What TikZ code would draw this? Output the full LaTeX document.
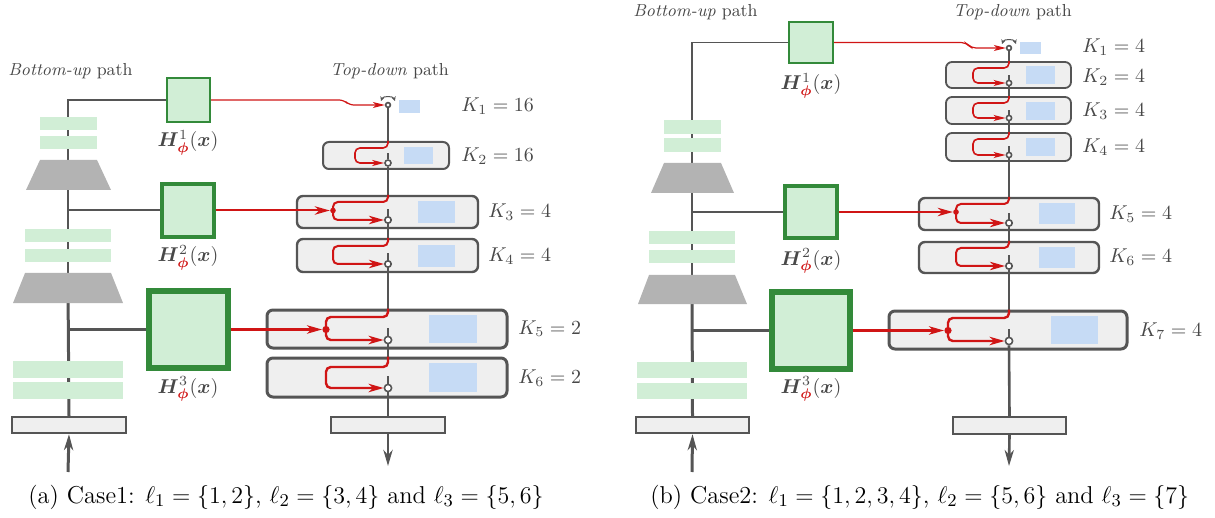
\documentclass[tikz,border=0pt]{standalone}
\usepackage{amsmath,bm}
\usetikzlibrary{arrows.meta,fit}
\definecolor{lineg}{HTML}{555555}
\definecolor{boxg}{HTML}{EFEFEF}
\definecolor{blueK}{HTML}{C6DBF5}
\definecolor{greenS}{HTML}{D1EED6}
\definecolor{greenD}{HTML}{338A3A}
\definecolor{trapG}{HTML}{B3B3B3}
\definecolor{redc}{HTML}{D01515}
\definecolor{textg}{HTML}{484848}
\tikzset{
  gl/.style={draw=lineg, line width=#1},
  rl/.style={draw=redc, line width=#1, rounded corners=2.4pt},
  rtipS/.style={-{Stealth[length=6pt,width=3pt,inset=1.6pt]}},
  rtipL/.style={-{Stealth[length=7.5pt,width=4.2pt,inset=2.2pt]}},
  gtip/.style={-{Stealth[length=8pt,width=4.6pt,inset=2.5pt]}},
  kbox/.style={draw=lineg, fill=boxg, line width=#1, rounded corners=3pt, inner sep=0pt},
  flatbox/.style={draw=lineg, fill=boxg, line width=1.2pt, inner sep=0pt},
  hbox/.style={draw=greenD, fill=greenS, line width=#1, inner sep=0pt},
  circ/.style={circle, draw=lineg, fill=white, inner sep=0pt, minimum size=#1, line width=0.8pt},
  jdot/.style={circle, fill=redc, inner sep=0pt, minimum size=#1},
  klab/.style={anchor=base west, text=textg, inner sep=0pt},
  hlab/.style={anchor=base, text=textg, inner sep=0pt},
  ttl/.style={anchor=base west, text=textg, inner sep=0pt, font=\fontsize{8.7}{10}\selectfont},
  captext/.style={anchor=base west, inner sep=0pt, font=\fontsize{12.2}{14}\selectfont},
  stripe/.style={fill=greenS},
  trap/.style={fill=trapG},
  bluer/.style={fill=blueK},
}
\newcommand{\Hl}[1]{$\bm{H}^{#1}_{\textcolor{redc}{\bm{\phi}}}(\bm{x})$}
\begin{document}
\begin{tikzpicture}[x=0.5pt,y=-0.5pt]
\useasboundingbox (0,0) rectangle (1215,518);

%================= PANEL (a) =================
\node[ttl] (tbuA) at (8,76) {\textit{Bottom-up} path};
\node[ttl] (ttdA) at (330,76) {\textit{Top-down} path};

\node[hbox=1pt, fit={(167,78)(210,122)}] (h1a) {};
\node[hbox=1.6pt, fit={(162,184)(214,237)}] (h2a) {};
\node[hbox=2.6pt, fit={(149,291)(228,368)}] (h3a) {};
\node[hlab] (lh1a) at (188,147) {\Hl{1}};
\node[hlab] (lh2a) at (188,262) {\Hl{2}};
\node[hlab] (lh3a) at (188,393) {\Hl{3}};

\node[flatbox, fit={(12,417)(126,433)}] (inA) {};
\coordinate (inA0) at (68,472);
\coordinate (bA0) at (68,100);
\coordinate (bA1) at (68,176);
\coordinate (bA2) at (68,288);

\draw[gl=0.6pt] (h1a.west) -- (bA0) -- (bA1);
\draw[gl=1pt] (bA1) -- (bA2);
\draw[gl=1.5pt] (bA2) -- (inA.north);
\draw[gl=1pt] (h2a.west -| bA0) -- (h2a.west);
\draw[gl=1.5pt] (h3a.west -| bA0) -- (h3a.west);
\draw[gl=1.5pt, gtip] (inA0) -- (inA.south);

\fill[stripe] (40,117) rectangle (97,130);
\fill[stripe] (40,136) rectangle (97,149);
\fill[trap] (40,160) -- (97,160) -- (111,190) -- (26,190) -- cycle;
\fill[stripe] (25,229) rectangle (111,242);
\fill[stripe] (25,249) rectangle (111,262);
\fill[trap] (25,273) -- (111,273) -- (123,303) -- (13,303) -- cycle;
\fill[stripe] (13,361) rectangle (123,378);
\fill[stripe] (13,382) rectangle (123,399);

\node[kbox=1pt, fit={(323,142)(449,169)}] (k2a) {};
\node[kbox=1.2pt, fit={(297,196)(478,228)}] (k3a) {};
\node[kbox=1.2pt, fit={(297,239)(478,272)}] (k4a) {};
\node[kbox=1.5pt, fit={(267,310)(507,348)}] (k5a) {};
\node[kbox=1.5pt, fit={(267,358)(507,397)}] (k6a) {};
\node[flatbox, fit={(331,417)(445,433)}] (outA) {};
\coordinate (outA0) at (388,466);

\fill[bluer] (399,100) rectangle (420,113);
\fill[bluer] (404,147) rectangle (433,164);
\fill[bluer] (418,201) rectangle (455,223);
\fill[bluer] (418,245) rectangle (455,267);
\fill[bluer] (429,315) rectangle (477,343);
\fill[bluer] (429,363) rectangle (477,392);

\node[circ=2.4pt] (c1a) at (388,105) {};
\node[circ=3pt] (c2a) at (388,163) {};
\node[circ=3.2pt] (c3a) at (388,220) {};
\node[circ=3.2pt] (c4a) at (388,264) {};
\node[circ=3.6pt] (c5a) at (388,340) {};
\node[circ=3.6pt] (c6a) at (388,388) {};
\node[jdot=2.8pt] (j3a) at (333,210.5) {};
\node[jdot=3.6pt] (j5a) at (326,329.5) {};

\draw[gl=0.6pt] (c1a.south) -- (c1a |- k2a.north);
\draw[gl=0.8pt] (c2a.south) -- (c2a |- k3a.north);
\draw[gl=0.8pt] (c3a.south) -- (c3a |- k4a.north);
\draw[gl=1pt] (c4a.south) -- (c4a |- k5a.north);
\draw[gl=1.2pt] (c5a.south) -- (c5a |- k6a.north);
\draw[gl=1.4pt] (c6a.south) -- (outA.north);
\draw[gl=1.4pt, gtip] (outA.south) -- (outA0);
\draw[gl=0.8pt] (c2a.north) -- ++(0,-6);
\draw[gl=0.8pt] (c3a.north) -- ++(0,-7);
\draw[gl=0.8pt] (c4a.north) -- ++(0,-7);
\draw[gl=1pt] (c5a.north) -- ++(0,-8);
\draw[gl=1pt] (c6a.north) -- ++(0,-8);
\draw[gl=0.5pt, {Stealth[length=2.2pt,width=2.2pt]}-{Stealth[length=2.2pt,width=2.2pt]}] (381,101) to[bend left=70] (395,101);

\draw[rl=0.6pt, rtipS] (h1a.east) -- (344,100) -- (349,105) -- (c1a.west);
\draw[rl=0.8pt, rtipS] (c1a |- k2a.north) -- (388,148) -- (355,148) -- (355,163) -- (c2a.west);
\draw[rl=1pt, rtipL] (c2a |- k3a.north) -- (388,202) -- (333,202) -- (333,220) -- (c3a.west);
\draw[rl=1pt, rtipL] (h2a.east) -- (j3a.west);
\draw[rl=1pt, rtipL] (c3a |- k4a.north) -- (388,246) -- (333,246) -- (333,264) -- (c4a.west);
\draw[rl=1.2pt, rtipL] (c4a |- k5a.north) -- (388,317) -- (326,317) -- (326,340) -- (c5a.west);
\draw[rl=1.3pt, rtipL] (h3a.east) -- (j5a.west);
\draw[rl=1.2pt, rtipL] (c5a |- k6a.north) -- (388,367) -- (326,367) -- (326,388) -- (c6a.west);

\node[klab] (kl1a) at (461,112) {$K_1 = 16$};
\node[klab] (kl2a) at (461,162) {$K_2 = 16$};
\node[klab] (kl3a) at (488,218) {$K_3 = 4$};
\node[klab] (kl4a) at (488,262) {$K_4 = 4$};
\node[klab] (kl5a) at (518,334) {$K_5 = 2$};
\node[klab] (kl6a) at (518,383) {$K_6 = 2$};

\node[captext] (capA) at (28,503) {(a) Case1: $\ell_1 = \{1,2\}$, $\ell_2 = \{3,4\}$ and $\ell_3 = \{5,6\}$};

%================= PANEL (b) =================
\node[ttl] (tbuB) at (633,17) {\textit{Bottom-up} path};
\node[ttl] (ttdB) at (953,17) {\textit{Top-down} path};

\node[hbox=1pt, fit={(789,22)(833,63)}] (h1b) {};
\node[hbox=1.6pt, fit={(785,186)(837,238)}] (h2b) {};
\node[hbox=2.6pt, fit={(772,292)(850,369)}] (h3b) {};
\node[hlab] (lh1b) at (811,90) {\Hl{1}};
\node[hlab] (lh2b) at (811,265) {\Hl{2}};
\node[hlab] (lh3b) at (811,393) {\Hl{3}};

\node[flatbox, fit={(636,417)(749,433)}] (inB) {};
\coordinate (inB0) at (692,472);
\coordinate (bB0) at (692,42.5);
\coordinate (bB1) at (692,178);
\coordinate (bB2) at (692,290);

\draw[gl=0.6pt] (h1b.west) -- (bB0) -- (bB1);
\draw[gl=1pt] (bB1) -- (bB2);
\draw[gl=1.5pt] (bB2) -- (inB.north);
\draw[gl=1pt] (h2b.west -| bB0) -- (h2b.west);
\draw[gl=1.5pt] (h3b.west -| bB0) -- (h3b.west);
\draw[gl=1.5pt, gtip] (inB0) -- (inB.south);

\fill[stripe] (664,120) rectangle (721,134);
\fill[stripe] (664,138) rectangle (721,152);
\fill[trap] (664,163) -- (721,163) -- (734,193) -- (651,193) -- cycle;
\fill[stripe] (649,231) rectangle (735,244);
\fill[stripe] (649,250) rectangle (735,263);
\fill[trap] (649,275) -- (735,275) -- (747,304) -- (638,304) -- cycle;
\fill[stripe] (637,362) rectangle (747,378);
\fill[stripe] (637,383) rectangle (747,399);

\node[kbox=0.9pt, fit={(946,62)(1071,88)}] (k2b) {};
\node[kbox=0.9pt, fit={(946,97)(1071,124)}] (k3b) {};
\node[kbox=0.9pt, fit={(946,133)(1071,161)}] (k4b) {};
\node[kbox=1.2pt, fit={(919,198)(1099,230)}] (k5b) {};
\node[kbox=1.2pt, fit={(919,242)(1099,273)}] (k6b) {};
\node[kbox=1.5pt, fit={(889,311)(1127,349)}] (k7b) {};
\node[flatbox, fit={(953,417)(1066,434)}] (outB) {};
\coordinate (outB0) at (1009,466);

\fill[bluer] (1020,42) rectangle (1041,54);
\fill[bluer] (1026,66) rectangle (1055,84);
\fill[bluer] (1026,102) rectangle (1055,120);
\fill[bluer] (1026,138) rectangle (1055,156);
\fill[bluer] (1039,203) rectangle (1075,224);
\fill[bluer] (1039,247) rectangle (1075,268);
\fill[bluer] (1051,316) rectangle (1098,344);

\node[circ=2.4pt] (c1b) at (1009,48) {};
\node[circ=2.6pt] (c2b) at (1009,83) {};
\node[circ=2.6pt] (c3b) at (1009,118) {};
\node[circ=2.6pt] (c4b) at (1009,155) {};
\node[circ=3.2pt] (c5b) at (1009,223) {};
\node[circ=3.2pt] (c6b) at (1009,266) {};
\node[circ=3.6pt] (c7b) at (1009,341) {};
\node[jdot=2.8pt] (j5b) at (956,212) {};
\node[jdot=3.6pt] (j7b) at (948,330.5) {};

\draw[gl=0.6pt] (c1b.south) -- (c1b |- k2b.north);
\draw[gl=0.6pt] (c2b.south) -- (c2b |- k3b.north);
\draw[gl=0.6pt] (c3b.south) -- (c3b |- k4b.north);
\draw[gl=0.8pt] (c4b.south) -- (c4b |- k5b.north);
\draw[gl=0.9pt] (c5b.south) -- (c5b |- k6b.north);
\draw[gl=1pt] (c6b.south) -- (c6b |- k7b.north);
\draw[gl=1.3pt] (c7b.south) -- (outB.north);
\draw[gl=1.3pt, gtip] (outB.south) -- (outB0);
\draw[gl=0.6pt] (c2b.north) -- ++(0,-5);
\draw[gl=0.6pt] (c3b.north) -- ++(0,-5);
\draw[gl=0.6pt] (c4b.north) -- ++(0,-6);
\draw[gl=0.8pt] (c5b.north) -- ++(0,-6);
\draw[gl=0.8pt] (c6b.north) -- ++(0,-7);
\draw[gl=1pt] (c7b.north) -- ++(0,-8);
\draw[gl=0.5pt, {Stealth[length=2.2pt,width=2.2pt]}-{Stealth[length=2.2pt,width=2.2pt]}] (1002,44) to[bend left=70] (1016,44);

\draw[rl=0.6pt, rtipS] (h1b.east) -- (966,42.5) -- (971,48) -- (c1b.west);
\draw[rl=0.8pt, rtipS] (c1b |- k2b.north) -- (1009,68) -- (973,68) -- (973,83) -- (c2b.west);
\draw[rl=0.8pt, rtipS] (c2b |- k3b.north) -- (1009,103) -- (973,103) -- (973,118) -- (c3b.west);
\draw[rl=0.8pt, rtipS] (c3b |- k4b.north) -- (1009,139) -- (973,139) -- (973,155) -- (c4b.west);
\draw[rl=1pt, rtipL] (c4b |- k5b.north) -- (1009,204) -- (956,204) -- (956,223) -- (c5b.west);
\draw[rl=1pt, rtipL] (h2b.east) -- (j5b.west);
\draw[rl=1pt, rtipL] (c5b |- k6b.north) -- (1009,248) -- (956,248) -- (956,266) -- (c6b.west);
\draw[rl=1.2pt, rtipL] (c6b |- k7b.north) -- (1009,318) -- (948,318) -- (948,341) -- (c7b.west);
\draw[rl=1.3pt, rtipL] (h3b.east) -- (j7b.west);

\node[klab] (kl1b) at (1082,53) {$K_1 = 4$};
\node[klab] (kl2b) at (1082,83) {$K_2 = 4$};
\node[klab] (kl3b) at (1082,117) {$K_3 = 4$};
\node[klab] (kl4b) at (1082,153) {$K_4 = 4$};
\node[klab] (kl5b) at (1109,220) {$K_5 = 4$};
\node[klab] (kl6b) at (1109,263) {$K_6 = 4$};
\node[klab] (kl7b) at (1139,336) {$K_7 = 4$};

\node[captext] (capB) at (650,503) {(b) Case2: $\ell_1 = \{1,2,3,4\}$, $\ell_2 = \{5,6\}$ and $\ell_3 = \{7\}$};
\end{tikzpicture}
\end{document}
